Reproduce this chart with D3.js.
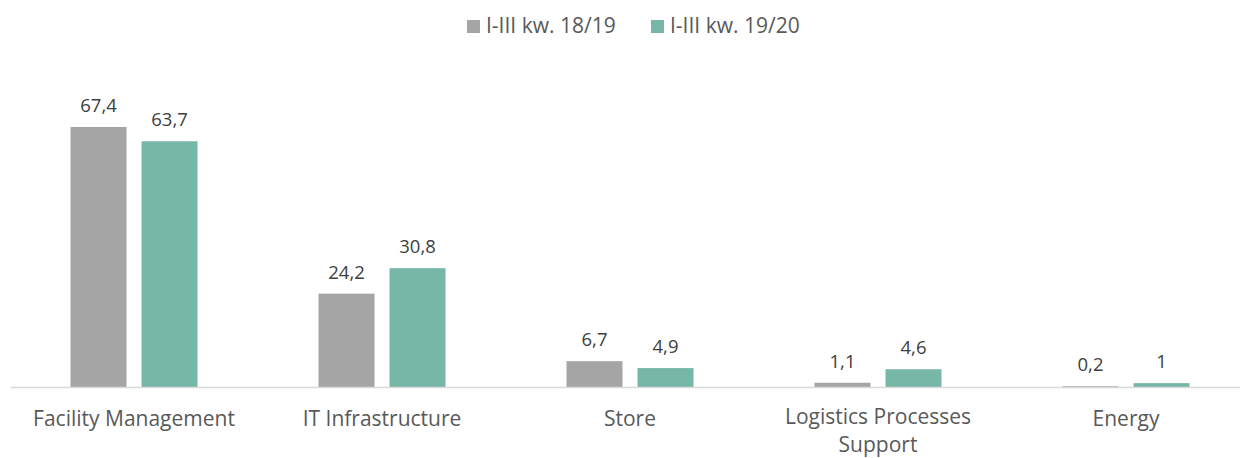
<!DOCTYPE html>
<html><head><meta charset="utf-8">
<script src="https://cdn.jsdelivr.net/npm/d3@7"></script>
<style>body{margin:0;background:#fff;} text{font-family:"Open Sans", "Noto Sans", sans-serif;}</style>
</head><body>
<svg id="c" width="1240" height="458"></svg>
<script>
const categories = ["Facility Management", "IT Infrastructure", "Store", "Logistics Processes Support", "Energy"];
const seriesNames = ["I-III kw. 18/19", "I-III kw. 19/20"];
const series1 = [67.4, 24.2, 6.7, 1.1, 0.2];
const series2 = [63.7, 30.8, 4.9, 4.6, 1];
const colors = ["#A5A5A5", "#76B7A7"];

const svg = d3.select("#c");
const baseY = 387;
const x = d3.scaleBand().domain(categories).range([10, 1250]);
const y = d3.scaleLinear().domain([0, 80]).range([baseY, baseY - 308.6]);
const inner = d3.scaleBand().domain([0,1]).range([0, 127]).paddingInner(15/71);
const fmt = v => String(v).replace(".", ",");

const data = [series1, series2];
categories.forEach((c, i) => {
  const cx = x(c) + x.bandwidth()/2;
  data.forEach((s, j) => {
    const bx = cx - 63.5 + inner(j);
    svg.append("rect").attr("x", bx).attr("width", inner.bandwidth())
      .attr("y", y(s[i])).attr("height", baseY - y(s[i])).attr("fill", colors[j]);
    svg.append("text").attr("x", bx + inner.bandwidth()/2).attr("y", y(s[i]) - 15)
      .attr("text-anchor", "middle").attr("font-size", 18.5).attr("fill", "#404040").text(fmt(s[i]));
  });
});

// axis
const axisG = svg.append("g").attr("transform", `translate(0,${baseY})`)
  .call(d3.axisBottom(x).tickSize(0).tickFormat(""));
axisG.select(".domain").attr("stroke", "#D9D9D9").attr("stroke-width", 1.5);

// category labels
categories.forEach(c => {
  const cx = x(c) + x.bandwidth()/2;
  const lines = c === "Logistics Processes Support" ? ["Logistics Processes", "Support"] : [c];
  lines.forEach((l, k) => svg.append("text").attr("text-anchor", "middle").attr("font-size", 21)
    .attr("fill", "#595959").attr("x", cx).attr("y", (lines.length > 1 ? 424 : 426) + k*28).text(l));
});

// legend
const leg = [{x: 467, tx: 486}, {x: 651, tx: 670}];
seriesNames.forEach((n, j) => {
  svg.append("rect").attr("x", leg[j].x).attr("y", 20).attr("width", 13).attr("height", 13).attr("fill", colors[j]);
  svg.append("text").attr("x", leg[j].tx).attr("y", 33).attr("font-size", 21).attr("fill", "#595959").text(n);
});
</script>
</body></html>
